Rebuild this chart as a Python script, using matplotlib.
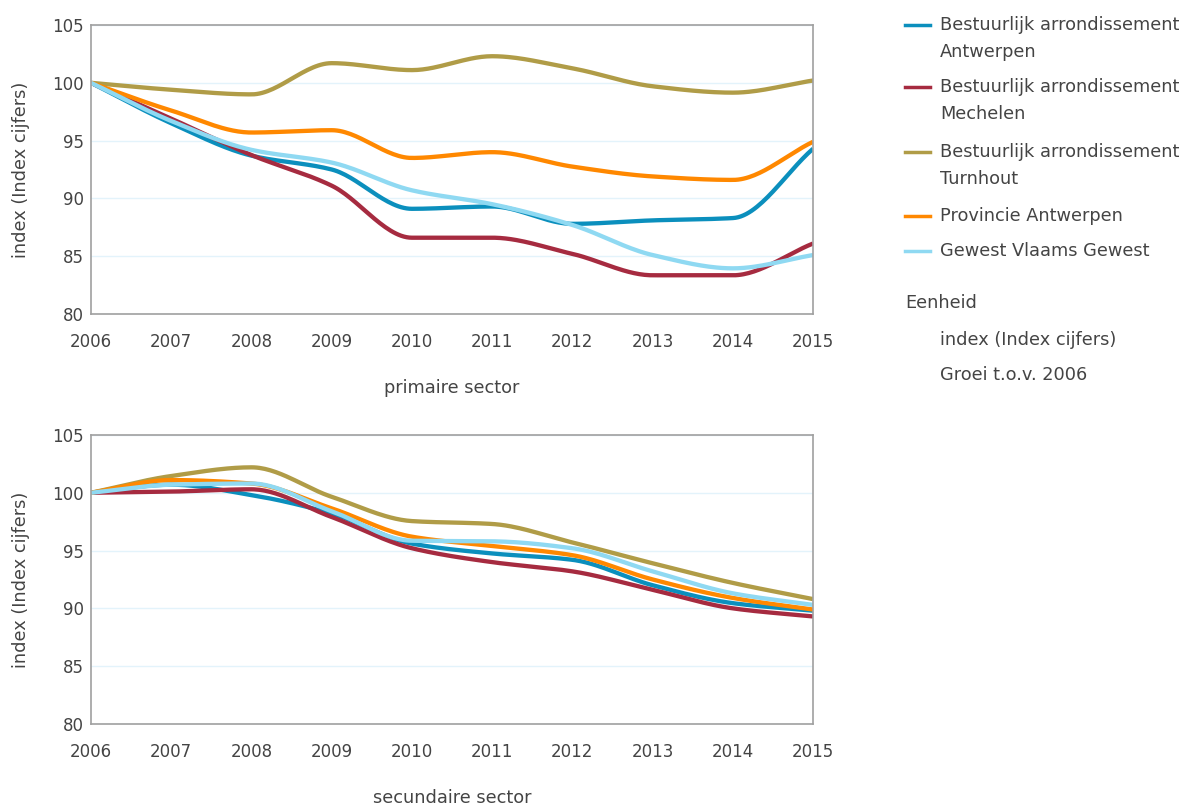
import numpy as np
import matplotlib
matplotlib.use("Agg")
import matplotlib.pyplot as plt
from matplotlib.lines import Line2D

years = [2006, 2007, 2008, 2009, 2010, 2011, 2012, 2013, 2014, 2015]

series_names = [
    "Bestuurlijk arrondissement\nAntwerpen",
    "Bestuurlijk arrondissement\nMechelen",
    "Bestuurlijk arrondissement\nTurnhout",
    "Provincie Antwerpen",
    "Gewest Vlaams Gewest",
]
colors = ["#0b8fbd", "#a62b40", "#b09c47", "#ff8800", "#8fd9f2"]

# primaire sector
prim_antwerpen = [100, 96.5, 93.7, 92.5, 89.1, 89.3, 87.8, 88.1, 88.3, 94.3]
prim_mechelen = [100, 96.9, 93.75, 91.1, 86.6, 86.6, 85.2, 83.35, 83.35, 86.1]
prim_turnhout = [100, 99.4, 99.0, 101.7, 101.1, 102.3, 101.25, 99.7, 99.15, 100.2]
prim_provincie = [100, 97.6, 95.7, 95.9, 93.5, 94.0, 92.75, 91.9, 91.6, 94.9]
prim_vlaams = [100, 96.7, 94.2, 93.1, 90.7, 89.5, 87.7, 85.1, 83.95, 85.1]

# secundaire sector
sec_antwerpen = [100, 100.7, 99.8, 98.2, 95.6, 94.75, 94.2, 92.0, 90.45, 89.8]
sec_mechelen = [100, 100.1, 100.3, 97.9, 95.2, 94.0, 93.2, 91.6, 90.0, 89.3]
sec_turnhout = [100, 101.45, 102.2, 99.65, 97.55, 97.3, 95.7, 93.9, 92.2, 90.8]
sec_provincie = [100, 101.1, 100.8, 98.65, 96.2, 95.4, 94.6, 92.5, 90.9, 89.9]
sec_vlaams = [100, 100.7, 100.8, 98.4, 95.85, 95.8, 95.2, 93.2, 91.3, 90.3]

primaire = [prim_antwerpen, prim_mechelen, prim_turnhout, prim_provincie, prim_vlaams]
secundaire = [sec_antwerpen, sec_mechelen, sec_turnhout, sec_provincie, sec_vlaams]

text_color = "#444444"
fs = 12.8
plt.rcParams["font.family"] = "DejaVu Sans"


def monotone_curve(x, y, n=30):
    # monotone cubic (Fritsch-Carlson) for a smooth line through the points
    x = np.asarray(x, float)
    y = np.asarray(y, float)
    h = np.diff(x)
    d = np.diff(y) / h
    m = np.zeros_like(y)
    m[0], m[-1] = d[0], d[-1]
    for i in range(1, len(y) - 1):
        if d[i - 1] * d[i] <= 0:
            m[i] = 0
        else:
            m[i] = 2 / (1 / d[i - 1] + 1 / d[i])
    xs, ys = [], []
    for i in range(len(x) - 1):
        t = np.linspace(0, 1, n, endpoint=False)
        h00 = 2 * t**3 - 3 * t**2 + 1
        h10 = t**3 - 2 * t**2 + t
        h01 = -2 * t**3 + 3 * t**2
        h11 = t**3 - t**2
        xs.append(x[i] + t * h[i])
        ys.append(h00 * y[i] + h10 * h[i] * m[i] + h01 * y[i + 1] + h11 * h[i] * m[i + 1])
    xs.append([x[-1]])
    ys.append([y[-1]])
    return np.concatenate(xs), np.concatenate(ys)


fig = plt.figure(figsize=(11.87, 8.07), dpi=100)
ax_top = fig.add_axes([0.0767, 0.6109, 0.6083, 0.3581])
ax_bot = fig.add_axes([0.0767, 0.1029, 0.6083, 0.3581])

for ax, data, title in [(ax_top, primaire, "primaire sector"), (ax_bot, secundaire, "secundaire sector")]:
    for vals, c in zip(data, colors):
        xs, ys = monotone_curve(years, vals)
        ax.plot(xs, ys, color=c, lw=3.1, solid_capstyle="butt")
    ax.set_xlim(2006, 2015)
    ax.set_ylim(80, 105)
    ax.set_xticks(years)
    ax.set_yticks([80, 85, 90, 95, 100, 105])
    ax.grid(axis="y", color="#e3f3fb", lw=1)
    ax.set_axisbelow(True)
    ax.tick_params(length=0, labelsize=12, labelcolor=text_color)
    ax.tick_params(axis="x", pad=14)
    ax.tick_params(axis="y", pad=5)
    for s in ax.spines.values():
        s.set_color("#a0a0a0")
        s.set_linewidth(1.2)
    ax.set_ylabel("index (Index cijfers)", fontsize=fs, color=text_color)
    ax.yaxis.set_label_coords(-0.084, 0.5)
    ax.set_xlabel(title, fontsize=fs, color=text_color, labelpad=20)

# legend drawn by hand on the right
W, H = 1187, 807
entry_y = [25, 87, 152, 216, 251]
for name, c, y in zip(series_names, colors, entry_y):
    fig.add_artist(Line2D([905 / W, 930 / W], [1 - y / H, 1 - y / H], color=c, lw=2.5,
                          transform=fig.transFigure))
    for k, line in enumerate(name.split("\n")):
        fig.text(940 / W, 1 - (y + 27 * k) / H, line, fontsize=fs, color=text_color,
                 va="center", ha="left")

fig.text(905 / W, 1 - 303 / H, "Eenheid", fontsize=fs, color=text_color, va="center")
fig.text(940 / W, 1 - 340 / H, "index (Index cijfers)", fontsize=fs, color=text_color, va="center")
fig.text(940 / W, 1 - 375 / H, "Groei t.o.v. 2006", fontsize=fs, color=text_color, va="center")

fig.savefig("out.png", dpi=100)
